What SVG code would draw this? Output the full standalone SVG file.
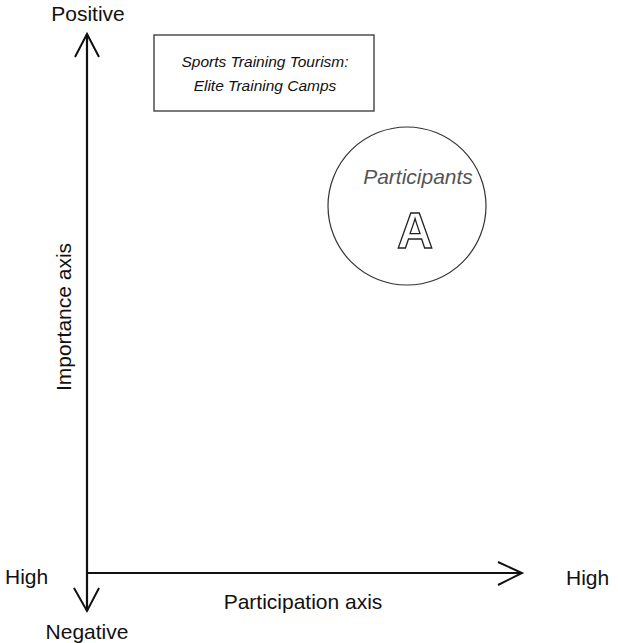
<svg xmlns="http://www.w3.org/2000/svg" width="618" height="643" viewBox="0 0 618 643">
  <style>
    .lbl { font-family: "Liberation Sans", Arial, sans-serif; font-size: 21px; fill: #111; }
    .box-txt { font-family: "Liberation Sans", Arial, sans-serif; font-size: 15.5px; font-style: italic; fill: #111; }
    .axis { stroke: #111; stroke-width: 2.2; fill: none; }
    .head { stroke: #111; stroke-width: 2; fill: none; stroke-linejoin: miter; }
  </style>
  <rect width="618" height="643" fill="#fff"/>

  <!-- axes -->
  <g id="connectors">
    <line class="axis" x1="87" y1="34" x2="87" y2="611"/>
    <polyline class="head" points="75,57 87,34 99,57"/>
    <polyline class="head" points="74,588 87,611 99,588"/>
    <line class="axis" x1="87" y1="573" x2="522" y2="573"/>
    <polyline class="head" points="498,562 522,573 498,585"/>
  </g>

  <!-- axis labels -->
  <g id="axis-labels">
    <text class="lbl" x="88" y="21" text-anchor="middle">Positive</text>
    <text class="lbl" x="87" y="639" text-anchor="middle">Negative</text>
    <text class="lbl" x="5" y="584">High</text>
    <text class="lbl" x="566" y="585">High</text>
    <text class="lbl" x="303" y="609" text-anchor="middle">Participation axis</text>
    <text class="lbl" transform="translate(71,317) rotate(-90)" text-anchor="middle">Importance axis</text>
  </g>

  <!-- title box -->
  <g id="title">
    <rect x="154" y="35" width="220" height="76" fill="#fff" stroke="#333" stroke-width="1.3"/>
    <text class="box-txt" x="265" y="67" text-anchor="middle">Sports Training Tourism:</text>
    <text class="box-txt" x="265" y="91" text-anchor="middle">Elite Training Camps</text>
  </g>

  <!-- participants group -->
  <g id="participants">
    <circle cx="407" cy="206" r="79" fill="#fff" stroke="#333" stroke-width="1.2"/>
    <text class="lbl" x="418" y="184" text-anchor="middle" style="fill:#555;font-style:italic">Participants</text>
    <text x="415" y="248" text-anchor="middle" font-family="Liberation Sans, Arial, sans-serif" font-weight="bold" font-size="50" fill="#fff" stroke="#222" stroke-width="1.3">A</text>
  </g>
</svg>
